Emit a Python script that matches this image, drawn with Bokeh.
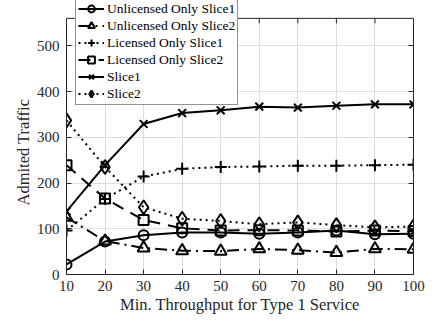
from bokeh.plotting import figure
from bokeh.models import (Range1d, LinearAxis, FixedTicker, Legend, LegendItem,
                          BoxAnnotation, Title)
from bokeh.embed import file_html
from bokeh.resources import INLINE

# ---- data ----
x_vals = [10, 20, 30, 40, 50, 60, 70, 80, 90, 100]
unlicensed_slice1 = [22, 72, 86, 92, 92, 89, 92, 96, 88, 89]
unlicensed_slice2 = [125, 73, 58, 52, 51, 56, 53, 48, 56, 55]
licensed_slice1 = [96, 165, 214, 231, 235, 236, 238, 238, 239, 240]
licensed_slice2 = [239, 166, 119, 101, 96, 97, 96, 94, 96, 95]
slice1 = [138, 239, 329, 353, 359, 367, 365, 369, 372, 372]
slice2 = [337, 235, 147, 122, 117, 110, 114, 108, 103, 105]

series_names = ["Unlicensed Only Slice1", "Unlicensed Only Slice2",
                "Licensed Only Slice1", "Licensed Only Slice2",
                "Slice1", "Slice2"]
x_ticks = [10, 20, 30, 40, 50, 60, 70, 80, 90, 100]
y_ticks = [0, 100, 200, 300, 400, 500]
X_MIN, X_MAX = 10, 100
Y_MIN, Y_MAX = 0, 560

FONT = "Liberation Serif"
TXT = "#262626"
BOXC = "#262626"

# layout (pixels)
W, H = 425, 316
B_LEFT, B_RIGHT, B_TOP, B_BOTTOM = 66, 12, 0, 40
BOX_GAP = 18          # axes box top sits this far below the canvas top
frame_h = H - B_TOP - B_BOTTOM
y_end = Y_MAX * frame_h / (frame_h - BOX_GAP)   # room above the box for legend
tick_len = 5 * Y_MAX / (frame_h - BOX_GAP)

p = figure(width=W, height=H, output_backend="svg", toolbar_location=None,
           x_range=Range1d(X_MIN, X_MAX), y_range=Range1d(Y_MIN, y_end),
           min_border_left=B_LEFT, min_border_right=B_RIGHT,
           min_border_top=B_TOP, min_border_bottom=B_BOTTOM)
p.background_fill_color = "white"
p.border_fill_color = "white"
p.outline_line_color = None

for ax in (p.xaxis[0], p.yaxis[0]):
    ax.major_tick_in = 5
    ax.major_tick_out = 0
    ax.minor_tick_line_color = None
    ax.axis_line_color = BOXC
    ax.axis_line_width = 1
    ax.major_tick_line_color = TXT
    ax.major_label_text_font = FONT
    ax.major_label_text_font_size = "15px"
    ax.major_label_text_color = TXT
    ax.axis_label_text_font = FONT
    ax.axis_label_text_font_size = "16.5px"
    ax.axis_label_text_font_style = "normal"
    ax.axis_label_text_color = TXT

p.xaxis[0].ticker = FixedTicker(ticks=x_ticks)
p.yaxis[0].ticker = FixedTicker(ticks=y_ticks)
p.yaxis[0].bounds = (Y_MIN, Y_MAX)
p.xaxis[0].axis_label = "Min. Throughput for Type 1 Service"
p.xaxis[0].major_label_standoff = 6
p.xaxis[0].axis_label_standoff = 1
p.yaxis[0].major_label_standoff = 7

ylab = Title(text="Admited Traffic", align="left", offset=69, standoff=2,
             text_font=FONT, text_font_size="16.5px", text_font_style="normal",
             text_color=TXT)
p.add_layout(ylab, "left")

# right-side box edge with inward ticks (no labels)
rax = LinearAxis(ticker=FixedTicker(ticks=y_ticks), bounds=(Y_MIN, Y_MAX))
rax.major_tick_in = 5
rax.major_tick_out = 0
rax.minor_tick_line_color = None
rax.axis_line_color = BOXC
rax.axis_line_width = 1
rax.major_tick_line_color = TXT
rax.major_label_text_font_size = "1px"
rax.major_label_text_color = None
rax.major_label_standoff = 0
p.add_layout(rax, "right")

p.xgrid.ticker = FixedTicker(ticks=x_ticks)
p.ygrid.ticker = FixedTicker(ticks=y_ticks)
p.grid.grid_line_color = "#dedede"
p.grid.grid_line_width = 1

# white area above the axes box (the legend sticks out there)
mask = BoxAnnotation(bottom=Y_MAX, fill_color="white", fill_alpha=1,
                     line_color=None, level="underlay")
p.add_layout(mask)
# top edge of the box and its inward ticks
p.segment(x0=[X_MIN], x1=[X_MAX], y0=[Y_MAX], y1=[Y_MAX],
          line_color=BOXC, line_width=1)
p.segment(x0=x_ticks, x1=x_ticks, y0=[Y_MAX] * len(x_ticks),
          y1=[Y_MAX - tick_len] * len(x_ticks), line_color=TXT, line_width=1)

styles = [
    (unlicensed_slice1, "solid", "circle", 10),
    (unlicensed_slice2, "12 5 2 5", "triangle", 12),
    (licensed_slice1, "2 4", "cross", 12),
    (licensed_slice2, "12 8", "square", 10),
    (slice1, "solid", "x", 11),
    (slice2, "2 4", "diamond", 14),
]

items = []
for name, (ys, dash, marker, size) in zip(series_names, styles):
    lr = p.line(x_vals, ys, line_color="black", line_width=2, line_dash=dash)
    sr = p.scatter(x_vals, ys, marker=marker, size=size, line_color="black",
                   line_width=2, fill_color=None)
    items.append(LegendItem(label=name, renderers=[lr, sr]))

legend = Legend(items=items, location=(9, 169))
legend.label_text_font = FONT
legend.label_text_font_size = "13.5px"
legend.label_text_color = "black"
legend.label_height = 17
legend.glyph_height = 17
legend.glyph_width = 26
legend.label_standoff = 3
legend.spacing = 0
legend.padding = 2
legend.margin = 0
legend.border_line_color = TXT
legend.border_line_width = 1
legend.background_fill_color = "white"
legend.background_fill_alpha = 1
p.add_layout(legend, "center")

open("out.html", "w").write(file_html(p, INLINE))
